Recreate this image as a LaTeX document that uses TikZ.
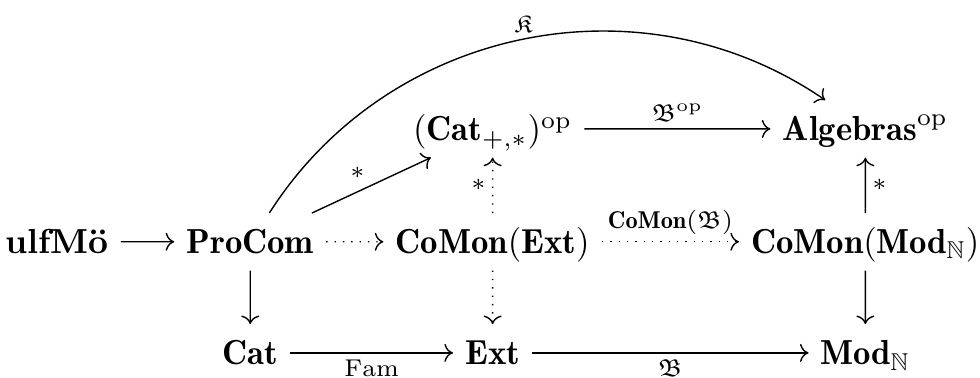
\documentclass[tikz,border=0pt]{standalone}
\usepackage{fontspec}
\usepackage{amssymb}
\usetikzlibrary{arrows.meta}
\begin{document}
\begin{tikzpicture}[>={Computer Modern Rightarrow},scale=0.885,obj/.style={anchor=base,text height=1.9ex,text depth=0.3ex},lbl/.style={inner sep=1.8pt}]
	\useasboundingbox (0,0) rectangle (11.20,4.31);
	\node[obj] (ulf) at (0.65,1.41) {\textbf{ulfMö}};
	\node[obj] (pro) at (2.86,1.41) {$\mathbf{ProCom}$};
	\node[obj] (cext) at (5.63,1.41) {$\mathbf{CoMon}(\mathbf{Ext})$};
	\node[obj] (cmod) at (9.89,1.41) {$\mathbf{CoMon}(\mathbf{Mod}_{\mathbb{N}})$};
	\node[obj] (catop) at (5.63,2.70) {$(\mathbf{Cat}_{+,*})^{\mathrm{op}}$};
	\node[obj] (alg) at (9.89,2.70) {$\mathbf{Algebras}^{\mathrm{op}}$};
	\node[obj] (cat) at (2.86,0.14) {$\mathbf{Cat}$};
	\node[obj] (ext) at (5.63,0.14) {$\mathbf{Ext}$};
	\node[obj] (mod) at (9.89,0.14) {$\mathbf{Mod}_{\mathbb{N}}$};
	\draw[->] (ulf) -- (pro);
	\draw[->,dotted] (pro) -- (cext);
	\draw[->,dotted] (cext) -- node[lbl,above] {$\scriptstyle\mathbf{CoMon}(\mathfrak{B})$} (cmod);
	\draw[->] (cmod) -- node[lbl,right] {$\scriptstyle *$} (alg);
	\draw[->] (cmod) -- (mod);
	\draw[->] (pro) -- (cat);
	\draw[->] (cat) -- node[lbl,below] {$\scriptstyle\mathrm{Fam}$} (ext);
	\draw[->] (ext) -- node[lbl,below] {$\scriptstyle\mathfrak{B}$} (mod);
	\draw[->,dotted] (cext) -- (ext);
	\draw[->,dotted] (cext) -- node[lbl,left] {$\scriptstyle *$} (catop);
	\draw[->] (pro) -- node[lbl,above left] {$\scriptstyle *$} (catop);
	\draw[->] (catop) -- node[lbl,above] {$\scriptstyle\mathfrak{B}^{\mathrm{op}}$} (alg);
	\draw[->] (pro) to[bend left=46] node[lbl,above] {$\scriptstyle\mathfrak{K}$} (alg);
\end{tikzpicture}
\end{document}
